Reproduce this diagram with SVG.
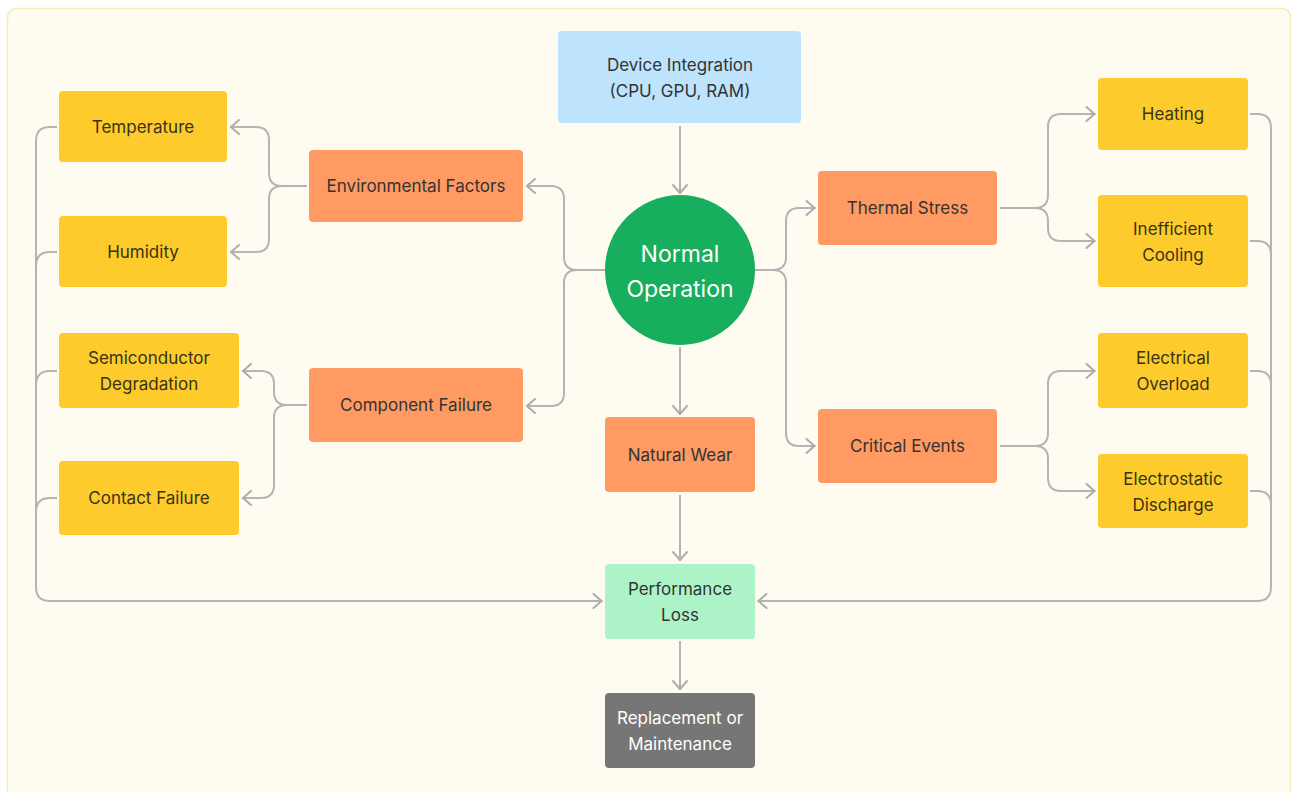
<svg xmlns="http://www.w3.org/2000/svg" width="1291" height="793" viewBox="0 0 1291 793">
<defs>
<marker id="arr" viewBox="0 0 12 16" refX="11" refY="8" markerWidth="12" markerHeight="16" markerUnits="userSpaceOnUse" orient="auto">
<path d="M2 1 L10 8 L2 15" fill="none" stroke="#ADADAD" stroke-width="2" stroke-linecap="round" stroke-linejoin="round"/>
</marker>
<style>
.bg{fill:#FEFCF1;stroke:#F9EBB4;stroke-width:1.5}
.c{fill:none;stroke:#B4B4B4;stroke-width:2}
.a{marker-end:url(#arr)}
.y{fill:#FDCC2C}
.o{fill:#FF9A62}
.t{font-family:Inter,"Liberation Sans",sans-serif;font-size:17px;text-anchor:middle;fill:#333333}
.ty{fill:#3A3215}
.w{fill:#FFFFFF}
</style>
</defs>
<rect class="bg" x="7.5" y="8.5" width="1283" height="800" rx="9"/>
<g id="connectors">
<path class="c a" d="M680 126 V194"/>
<path class="c a" d="M680 347 V415"/>
<path class="c a" d="M680 495 V561"/>
<path class="c a" d="M680 641 V690"/>
<path class="c a" d="M605 270 H577 Q564 270 564 257 V199 Q564 186 551 186 H526"/>
<path class="c a" d="M605 270 H577 Q564 270 564 283 V393 Q564 406 551 406 H526"/>
<path class="c a" d="M755 270 H773 Q786 270 786 257 V221 Q786 208 799 208 H815.5"/>
<path class="c a" d="M755 270 H773 Q786 270 786 283 V433 Q786 446 799 446 H815.5"/>
<path class="c a" d="M307 186 H282 Q269 186 269 173 V140 Q269 127 256 127 H230"/>
<path class="c a" d="M307 186 H282 Q269 186 269 199 V239 Q269 252 256 252 H230"/>
<path class="c a" d="M307 405 H287 Q274 405 274 392 V384 Q274 371 261 371 H242"/>
<path class="c a" d="M307 405 H287 Q274 405 274 418 V485 Q274 498 261 498 H242"/>
<path class="c a" d="M1000 208 H1035 Q1048 208 1048 195 V127 Q1048 114 1061 114 H1095.5"/>
<path class="c a" d="M1000 208 H1035 Q1048 208 1048 221 V228 Q1048 241 1061 241 H1095.5"/>
<path class="c a" d="M1000 446 H1035 Q1048 446 1048 433 V384 Q1048 371 1061 371 H1095.5"/>
<path class="c a" d="M1000 446 H1035 Q1048 446 1048 459 V478 Q1048 491 1061 491 H1095.5"/>
<path class="c a" d="M57 127 H50 Q36 127 36 141 V587 Q36 601 50 601 H602.5"/>
<path class="c" d="M57 252 H50 Q36 252 36 266"/>
<path class="c" d="M57 371 H50 Q36 371 36 385"/>
<path class="c" d="M57 498 H50 Q36 498 36 512"/>
<path class="c a" d="M1250 114 H1257 Q1271 114 1271 128 V587 Q1271 601 1257 601 H757.5"/>
<path class="c" d="M1250 241 H1257 Q1271 241 1271 255"/>
<path class="c" d="M1250 371 H1257 Q1271 371 1271 385"/>
<path class="c" d="M1250 491 H1257 Q1271 491 1271 505"/>
</g>
<g id="device">
<rect x="558" y="31" width="243" height="92" rx="4" fill="#BEE3FD"/>
<text class="t" x="680" y="71">Device Integration</text>
<text class="t" x="680" y="97">(CPU, GPU, RAM)</text>
</g>
<g id="normal">
<circle cx="680" cy="270" r="75" fill="#17AE5D"/>
<text class="t w" style="font-size:23px" x="680" y="262">Normal</text>
<text class="t w" style="font-size:23px" x="680" y="297">Operation</text>
</g>
<g id="env">
<rect class="o" x="309" y="150" width="214" height="72" rx="4"/>
<text class="t" x="416" y="192">Environmental Factors</text>
</g>
<g id="comp">
<rect class="o" x="309" y="368" width="214" height="74" rx="4"/>
<text class="t" x="416" y="411">Component Failure</text>
</g>
<g id="wear">
<rect class="o" x="605" y="417" width="150" height="75" rx="4"/>
<text class="t" x="680" y="461">Natural Wear</text>
</g>
<g id="thermal">
<rect class="o" x="818" y="171" width="179" height="74" rx="4"/>
<text class="t" x="907.5" y="214">Thermal Stress</text>
</g>
<g id="critical">
<rect class="o" x="818" y="409" width="179" height="74" rx="4"/>
<text class="t" x="907.5" y="452">Critical Events</text>
</g>
<g id="temperature">
<rect class="y" x="59" y="91" width="168" height="71" rx="4"/>
<text class="t ty" x="143" y="133">Temperature</text>
</g>
<g id="humidity">
<rect class="y" x="59" y="216" width="168" height="71" rx="4"/>
<text class="t ty" x="143" y="258">Humidity</text>
</g>
<g id="semi">
<rect class="y" x="59" y="333" width="180" height="75" rx="4"/>
<text class="t ty" x="149" y="364">Semiconductor</text>
<text class="t ty" x="149" y="390">Degradation</text>
</g>
<g id="contact">
<rect class="y" x="59" y="461" width="180" height="74" rx="4"/>
<text class="t ty" x="149" y="504">Contact Failure</text>
</g>
<g id="heating">
<rect class="y" x="1098" y="78" width="150" height="72" rx="4"/>
<text class="t ty" x="1173" y="120">Heating</text>
</g>
<g id="cooling">
<rect class="y" x="1098" y="195" width="150" height="92" rx="4"/>
<text class="t ty" x="1173" y="235">Inefficient</text>
<text class="t ty" x="1173" y="261">Cooling</text>
</g>
<g id="overload">
<rect class="y" x="1098" y="333" width="150" height="75" rx="4"/>
<text class="t ty" x="1173" y="364">Electrical</text>
<text class="t ty" x="1173" y="390">Overload</text>
</g>
<g id="esd">
<rect class="y" x="1098" y="454" width="150" height="74" rx="4"/>
<text class="t ty" x="1173" y="485">Electrostatic</text>
<text class="t ty" x="1173" y="511">Discharge</text>
</g>
<g id="perf">
<rect x="605" y="564" width="150" height="75" rx="4" fill="#ADF3C8"/>
<text class="t" x="680" y="595">Performance</text>
<text class="t" x="680" y="621">Loss</text>
</g>
<g id="replace">
<rect x="605" y="693" width="150" height="75" rx="4" fill="#767676"/>
<text class="t w" x="680" y="724">Replacement or</text>
<text class="t w" x="680" y="750">Maintenance</text>
</g>
</svg>
